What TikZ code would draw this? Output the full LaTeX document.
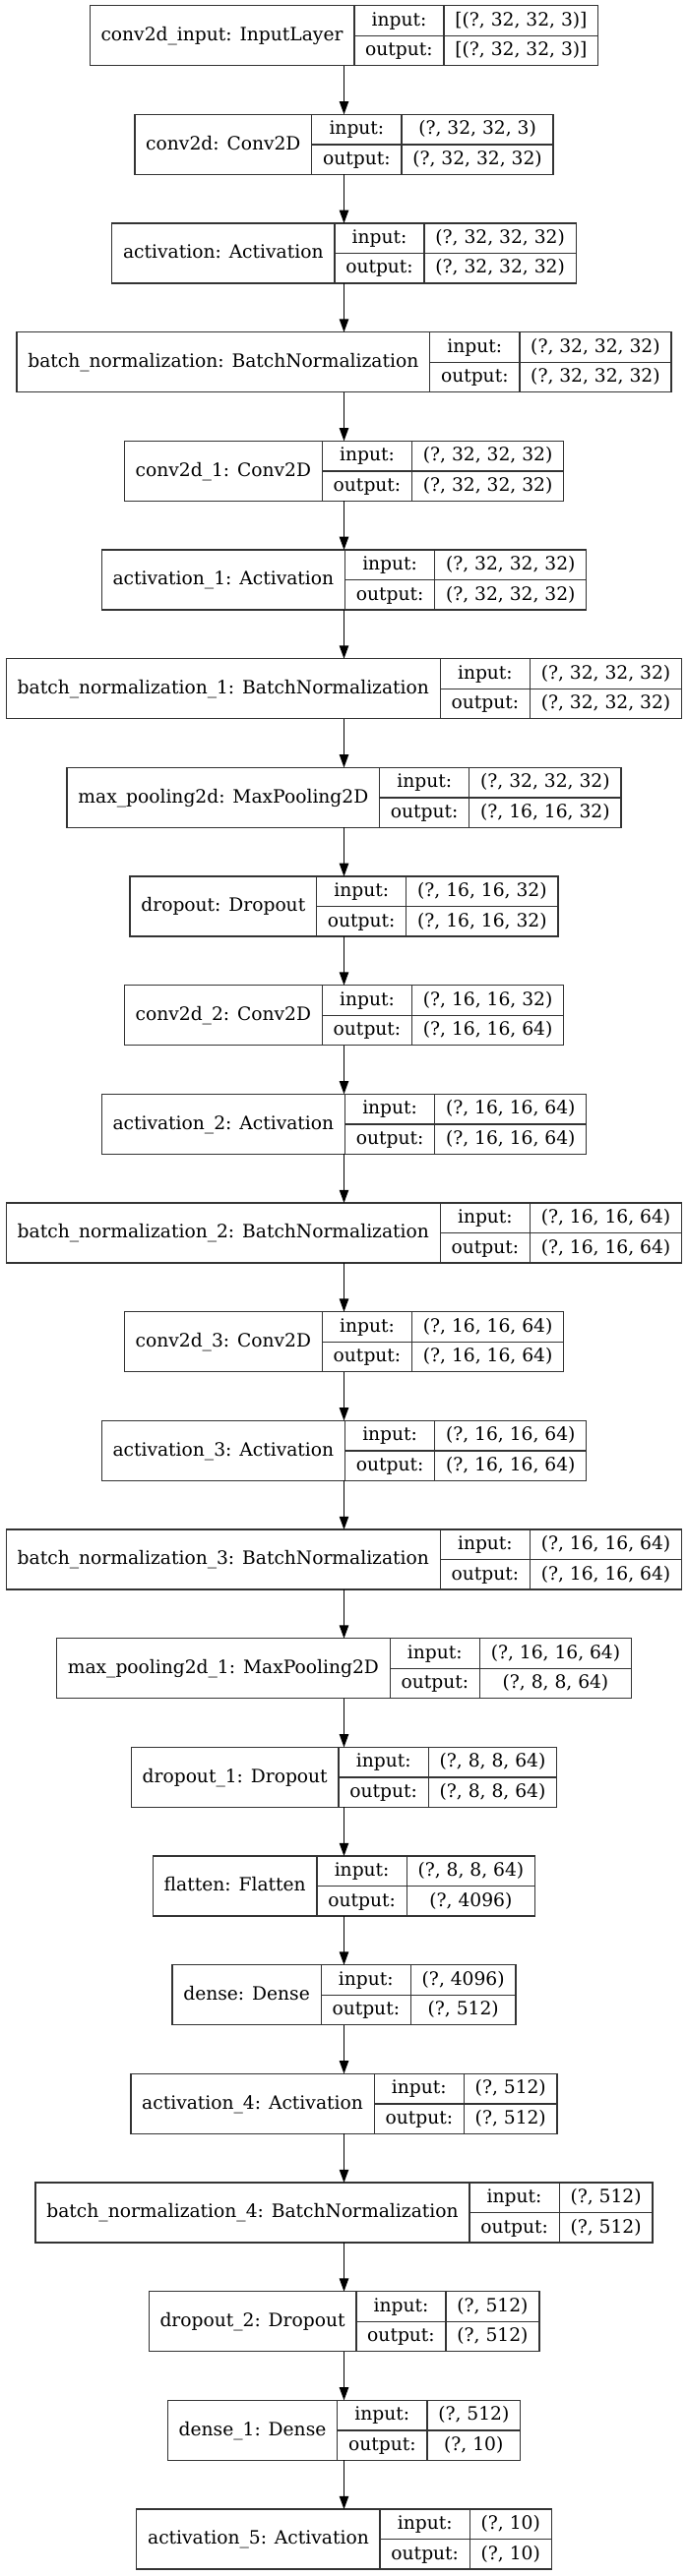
\documentclass[tikz,border=0pt]{standalone}
\usepackage{fontspec}
\setmainfont{DejaVu Serif}
\usetikzlibrary{arrows.meta}
\usetikzlibrary{positioning}

\newlength\wname
\newlength\wlab
\newlength\wval
\newlength\wtmp
\newlength\wtot
\newcommand\lfont{\fontsize{14}{17}\selectfont}
\newcommand\padx{17pt}
\newcommand\boxh{45.75pt}

% one layer: id, row, name, input shape, output shape
\newcommand\layer[5]{%
  \pgfinterruptpicture\normalfont\lfont
    \settowidth\wtmp{#3}\global\wname=\dimexpr\wtmp+\padx\relax
    \settowidth\wtmp{output:}\global\wlab=\dimexpr\wtmp+\padx\relax
    \settowidth\wtmp{#4}\global\wval=\wtmp
    \settowidth\wtmp{#5}\ifdim\wtmp>\wval \global\wval=\wtmp\fi
    \global\wval=\dimexpr\wval+\padx\relax
    \global\wtot=\dimexpr\wname+\wlab+\wval\relax
  \endpgfinterruptpicture
  \coordinate (#1-t) at (349.5, 5.7+110.67*#2);
  \coordinate (#1-b) at ([yshift=-\boxh]#1-t);
  \node[cell, anchor=north west, minimum width=\wname, minimum height=\boxh] (#1) at ([xshift=-0.5\wtot]#1-t) {#3};
  \node[cell, anchor=north west, minimum width=\wlab] (#1-il) at (#1.north east) {input:};
  \node[cell, below=0pt of #1-il, minimum width=\wlab] (#1-ol) {output:};
  \node[cell, right=0pt of #1-il, minimum width=\wval] (#1-iv) {#4};
  \node[cell, below=0pt of #1-iv, minimum width=\wval] (#1-ov) {#5};
}

\begin{document}
\begin{tikzpicture}[x=0.75pt, y=-0.75pt,
    cell/.style={draw=black!80, line width=1pt, inner sep=0pt, outer sep=0pt,
      minimum height=22.875pt, font=\lfont, text height=10pt, text depth=2.2pt},
    arr/.style={line width=1pt, -{Triangle[length=10pt, width=7pt]}}]
  \useasboundingbox (0,0) rectangle (699,2619);

  \layer{L1}{0}{conv2d\_input: InputLayer}{[(?, 32, 32, 3)]}{[(?, 32, 32, 3)]}
  \layer{L2}{1}{conv2d: Conv2D}{(?, 32, 32, 3)}{(?, 32, 32, 32)}
  \layer{L3}{2}{activation: Activation}{(?, 32, 32, 32)}{(?, 32, 32, 32)}
  \layer{L4}{3}{batch\_normalization: BatchNormalization}{(?, 32, 32, 32)}{(?, 32, 32, 32)}
  \layer{L5}{4}{conv2d\_1: Conv2D}{(?, 32, 32, 32)}{(?, 32, 32, 32)}
  \layer{L6}{5}{activation\_1: Activation}{(?, 32, 32, 32)}{(?, 32, 32, 32)}
  \layer{L7}{6}{batch\_normalization\_1: BatchNormalization}{(?, 32, 32, 32)}{(?, 32, 32, 32)}
  \layer{L8}{7}{max\_pooling2d: MaxPooling2D}{(?, 32, 32, 32)}{(?, 16, 16, 32)}
  \layer{L9}{8}{dropout: Dropout}{(?, 16, 16, 32)}{(?, 16, 16, 32)}
  \layer{L10}{9}{conv2d\_2: Conv2D}{(?, 16, 16, 32)}{(?, 16, 16, 64)}
  \layer{L11}{10}{activation\_2: Activation}{(?, 16, 16, 64)}{(?, 16, 16, 64)}
  \layer{L12}{11}{batch\_normalization\_2: BatchNormalization}{(?, 16, 16, 64)}{(?, 16, 16, 64)}
  \layer{L13}{12}{conv2d\_3: Conv2D}{(?, 16, 16, 64)}{(?, 16, 16, 64)}
  \layer{L14}{13}{activation\_3: Activation}{(?, 16, 16, 64)}{(?, 16, 16, 64)}
  \layer{L15}{14}{batch\_normalization\_3: BatchNormalization}{(?, 16, 16, 64)}{(?, 16, 16, 64)}
  \layer{L16}{15}{max\_pooling2d\_1: MaxPooling2D}{(?, 16, 16, 64)}{(?, 8, 8, 64)}
  \layer{L17}{16}{dropout\_1: Dropout}{(?, 8, 8, 64)}{(?, 8, 8, 64)}
  \layer{L18}{17}{flatten: Flatten}{(?, 8, 8, 64)}{(?, 4096)}
  \layer{L19}{18}{dense: Dense}{(?, 4096)}{(?, 512)}
  \layer{L20}{19}{activation\_4: Activation}{(?, 512)}{(?, 512)}
  \layer{L21}{20}{batch\_normalization\_4: BatchNormalization}{(?, 512)}{(?, 512)}
  \layer{L22}{21}{dropout\_2: Dropout}{(?, 512)}{(?, 512)}
  \layer{L23}{22}{dense\_1: Dense}{(?, 512)}{(?, 10)}
  \layer{L24}{23}{activation\_5: Activation}{(?, 10)}{(?, 10)}

  \draw[arr] (L1-b) -- (L2-t);
  \draw[arr] (L2-b) -- (L3-t);
  \draw[arr] (L3-b) -- (L4-t);
  \draw[arr] (L4-b) -- (L5-t);
  \draw[arr] (L5-b) -- (L6-t);
  \draw[arr] (L6-b) -- (L7-t);
  \draw[arr] (L7-b) -- (L8-t);
  \draw[arr] (L8-b) -- (L9-t);
  \draw[arr] (L9-b) -- (L10-t);
  \draw[arr] (L10-b) -- (L11-t);
  \draw[arr] (L11-b) -- (L12-t);
  \draw[arr] (L12-b) -- (L13-t);
  \draw[arr] (L13-b) -- (L14-t);
  \draw[arr] (L14-b) -- (L15-t);
  \draw[arr] (L15-b) -- (L16-t);
  \draw[arr] (L16-b) -- (L17-t);
  \draw[arr] (L17-b) -- (L18-t);
  \draw[arr] (L18-b) -- (L19-t);
  \draw[arr] (L19-b) -- (L20-t);
  \draw[arr] (L20-b) -- (L21-t);
  \draw[arr] (L21-b) -- (L22-t);
  \draw[arr] (L22-b) -- (L23-t);
  \draw[arr] (L23-b) -- (L24-t);
\end{tikzpicture}
\end{document}
